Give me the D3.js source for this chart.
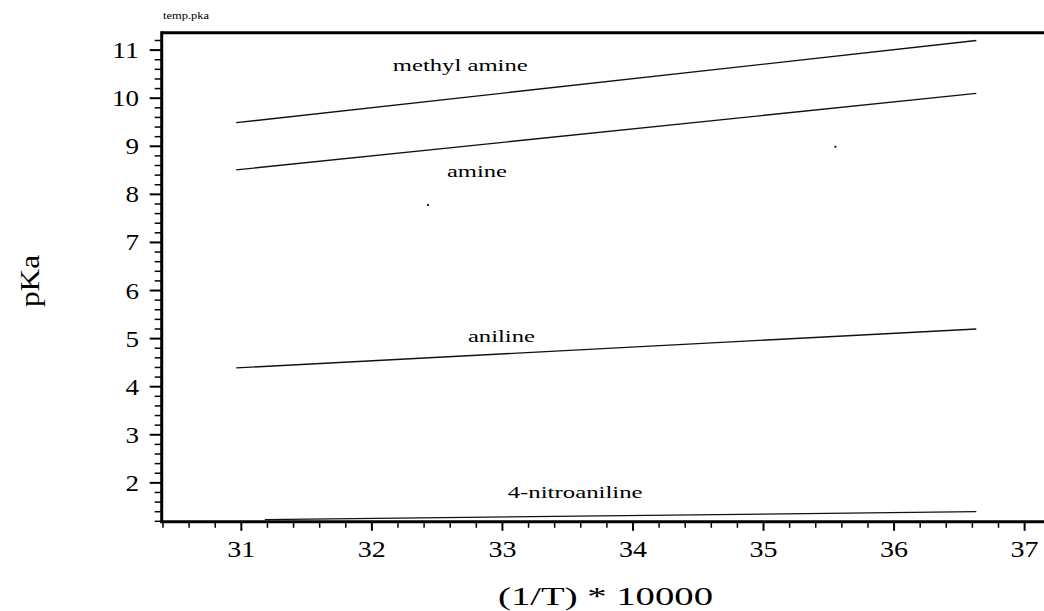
<!DOCTYPE html>
<html><head><meta charset="utf-8">
<script src="https://cdn.jsdelivr.net/npm/d3@7"></script>
<style>body{margin:0;background:#fff}svg{display:block}text{font-family:"Liberation Serif","Times New Roman",serif;fill:#000}</style>
</head><body>
<svg id="c" width="1044" height="611"></svg>
<script>
// Data
const seriesNames = ["methyl amine", "amine", "aniline", "4-nitroaniline"];
const xStart = [30.96, 30.96, 30.96, 31.18];
const xEnd = [36.63, 36.63, 36.63, 36.63];
const yStart = [9.49, 8.51, 4.39, 1.235];
const yEnd = [11.20, 10.10, 5.20, 1.40];
const labelX = [32.16, 32.575, 32.736, 33.04];
const labelY = [10.566, 8.36, 4.93, 1.68];
const labelWidth = [135, 60, 67, 135];
const xMajorTicks = [31, 32, 33, 34, 35, 36, 37];
const yMajorTicks = [2, 3, 4, 5, 6, 7, 8, 9, 10, 11];
const strayX = [32.43, 35.55];
const strayY = [7.78, 8.99];
const title = "temp.pka";
const xTitle = "(1/T) * 10000";
const yTitle = "pKa";

const svg = d3.select("#c");
const x = d3.scaleLinear().domain([30.39, 37.15]).range([161.7, 1044.2]);
const y = d3.scaleLinear().domain([1.19, 11.36]).range([521.8, 32.8]);

const xMinor = d3.range(30.4, 37.21, 0.2).map(v => +v.toFixed(1)).filter(v => !xMajorTicks.includes(v));
const yMinor = d3.range(1.2, 11.31, 0.2).map(v => +v.toFixed(1)).filter(v => !yMajorTicks.includes(v));

svg.append("clipPath").attr("id", "clip").append("rect")
  .attr("x", x.range()[0]).attr("y", y.range()[1])
  .attr("width", x.range()[1] - x.range()[0]).attr("height", y.range()[0] - y.range()[1]);

// lines
const plot = svg.append("g").attr("clip-path", "url(#clip)");
seriesNames.forEach((n, i) => {
  plot.append("line")
    .attr("x1", x(xStart[i])).attr("y1", y(yStart[i]))
    .attr("x2", x(xEnd[i])).attr("y2", y(yEnd[i]))
    .attr("stroke", "#111").attr("stroke-width", 1.3);
});
strayX.forEach((v, i) => {
  plot.append("rect").attr("x", x(v) - 1).attr("y", y(strayY[i]) - 1)
    .attr("width", 2).attr("height", 2).attr("fill", "#222");
});

// line labels
seriesNames.forEach((n, i) => {
  svg.append("text").attr("x", x(labelX[i])).attr("y", y(labelY[i]))
    .attr("font-size", 16).attr("textLength", labelWidth[i])
    .attr("lengthAdjust", "spacingAndGlyphs").text(n);
});

// x axis ticks
const xg = svg.append("g");
xg.selectAll("line.mn").data(xMinor).join("line")
  .attr("x1", d => x(d)).attr("x2", d => x(d))
  .attr("y1", y.range()[0]).attr("y2", y.range()[0] + 6)
  .attr("stroke", "#000").attr("stroke-width", 1.5);
xg.selectAll("line.mj").data(xMajorTicks).join("line")
  .attr("x1", d => x(d)).attr("x2", d => x(d))
  .attr("y1", y.range()[0]).attr("y2", y.range()[0] + 9)
  .attr("stroke", "#000").attr("stroke-width", 2);
xg.selectAll("text").data(xMajorTicks).join("text")
  .attr("x", d => x(d)).attr("y", 557).attr("text-anchor", "middle")
  .attr("font-size", 24).attr("textLength", 28).attr("lengthAdjust", "spacingAndGlyphs")
  .text(d => d);

// y axis ticks
const yg = svg.append("g");
yg.selectAll("line.mn").data(yMinor).join("line")
  .attr("x1", x.range()[0] - 7).attr("x2", x.range()[0])
  .attr("y1", d => y(d)).attr("y2", d => y(d))
  .attr("stroke", "#000").attr("stroke-width", 1.5);
yg.selectAll("line.mj").data(yMajorTicks).join("line")
  .attr("x1", x.range()[0] - 12).attr("x2", x.range()[0])
  .attr("y1", d => y(d)).attr("y2", d => y(d))
  .attr("stroke", "#000").attr("stroke-width", 2);
yg.selectAll("text").data(yMajorTicks).join("text")
  .attr("x", 139).attr("y", d => y(d) + 8).attr("text-anchor", "end")
  .attr("font-size", 24)
  .attr("textLength", d => String(d).length * 13.5).attr("lengthAdjust", "spacingAndGlyphs")
  .text(d => d);

// frame lines
svg.append("line").attr("x1", x.range()[0]).attr("x2", x.range()[0])
  .attr("y1", y.range()[1] - 1.5).attr("y2", y.range()[0] + 1.5)
  .attr("stroke", "#000").attr("stroke-width", 3);
svg.append("line").attr("x1", x.range()[0]).attr("x2", x.range()[1])
  .attr("y1", y.range()[0]).attr("y2", y.range()[0])
  .attr("stroke", "#000").attr("stroke-width", 3);
svg.append("line").attr("x1", x.range()[0]).attr("x2", x.range()[1])
  .attr("y1", y.range()[1]).attr("y2", y.range()[1])
  .attr("stroke", "#000").attr("stroke-width", 3);

// titles
svg.append("text").attr("x", 163).attr("y", 19).attr("font-size", 10)
  .attr("textLength", 46).attr("lengthAdjust", "spacingAndGlyphs").text(title);
svg.append("text").attr("x", 498).attr("y", 605).attr("font-size", 26)
  .attr("textLength", 215).attr("lengthAdjust", "spacingAndGlyphs").text(xTitle);
svg.append("text").attr("transform", "translate(39,281) rotate(-90)")
  .attr("text-anchor", "middle").attr("font-size", 27)
  .attr("textLength", 52).attr("lengthAdjust", "spacingAndGlyphs").text(yTitle);
</script>
</body></html>
